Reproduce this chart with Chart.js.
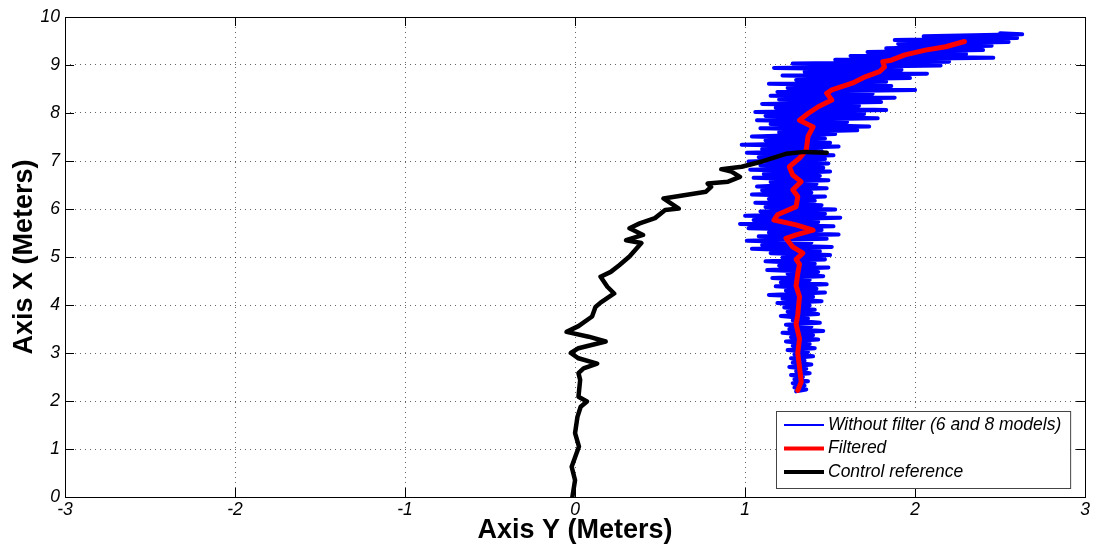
<!DOCTYPE html>
<html><head><meta charset="utf-8">
<script src="https://cdn.jsdelivr.net/npm/chart.js@4.4.0/dist/chart.umd.min.js"></script>
<style>html,body{margin:0;padding:0;background:#fff}canvas{display:block}</style>
</head><body>
<canvas id="c" width="1093" height="547"></canvas>
<script>
// ---- axis ticks ----
const xTickValues = [-3, -2, -1, 0, 1, 2, 3];
const yTickValues = [0, 1, 2, 3, 4, 5, 6, 7, 8, 9, 10];
const xAxisTitle = 'Axis Y (Meters)';
const yAxisTitle = 'Axis X (Meters)';
const seriesLabels = ['Without filter (6 and 8 models)', 'Filtered', 'Control reference'];
const seriesColors = ['#0000ff', '#ff0000', '#000000'];

// ---- series: Without filter (blue) ----
const blueX = [1.30,1.36,1.29,1.35,1.28,1.37,1.29,1.34,1.27,1.38,1.30,1.36,1.26,1.39,1.28,1.35,1.27,1.40,1.29,1.37,
  1.25,1.41,1.28,1.38,1.24,1.43,1.27,1.40,1.22,1.46,1.26,1.39,1.24,1.44,1.28,1.37,1.21,1.43,1.25,1.41,1.23,1.38,
  1.19,1.45,1.22,1.40,1.14,1.47,1.24,1.42,1.18,1.48,1.21,1.38,1.16,1.46,1.25,1.43,1.13,1.49,1.20,1.41,1.12,1.47,1.22,
  1.50,1.15,1.44,1.04,1.51,1.10,1.39,1.01,1.48,1.08,1.55,1.14,1.45,1.02,1.52,0.97,1.43,1.05,1.56,1.00,1.47,1.09,1.53,
  1.12,1.45,1.06,1.41,1.14,1.47,1.04,1.39,1.10,1.48,1.07,1.42,1.15,1.49,1.05,1.44,1.11,1.50,1.03,1.46,1.09,1.49,1.02,
  1.47,1.08,1.52,1.01,1.45,1.10,1.55,0.98,1.50,1.12,1.47,1.04,1.53,1.20,
  1.66,1.09,1.73,1.15,1.60,1.07,1.78,1.12,1.70,1.06,1.83,1.18,1.67,1.10,1.80,1.20,1.88,1.15,1.75,
  1.19,2.00,1.25,1.86,1.14,1.83,1.30,1.97,1.22,2.07,1.35,1.92,1.17,2.15,1.28,
  2.20,1.53,2.46,1.62,2.30,1.72,2.40,1.83,2.45,1.90,2.55,1.88,2.60,2.05,2.63,2.50];
const blueY = [2.20,2.24,2.28,2.32,2.37,2.41,2.45,2.50,2.54,2.58,2.62,2.67,2.71,2.76,2.80,2.84,2.89,2.93,2.97,3.02,
  3.06,3.10,3.15,3.19,3.24,3.28,3.33,3.37,3.42,3.46,3.50,3.55,3.59,3.63,3.68,3.72,3.77,3.81,3.86,3.90,3.95,3.99,
  4.04,4.08,4.13,4.17,4.21,4.26,4.30,4.34,4.39,4.43,4.47,4.52,4.56,4.60,4.65,4.69,4.73,4.78,4.82,4.86,4.91,4.95,4.99,
  5.04,5.08,5.12,5.17,5.21,5.25,5.30,5.34,5.38,5.43,5.47,5.51,5.56,5.60,5.64,5.69,5.73,5.77,5.82,5.86,5.90,5.95,5.99,
  6.04,6.08,6.13,6.17,6.21,6.26,6.30,6.34,6.39,6.43,6.47,6.52,6.56,6.60,6.65,6.69,6.73,6.78,6.82,6.86,6.91,6.95,6.99,
  7.04,7.08,7.12,7.17,7.21,7.25,7.30,7.34,7.38,7.43,7.47,7.51,7.56,7.60,
  7.64,7.68,7.72,7.77,7.81,7.85,7.89,7.94,7.98,8.02,8.06,8.11,8.15,8.19,8.23,8.28,8.32,8.36,8.40,
  8.44,8.48,8.52,8.56,8.61,8.65,8.69,8.73,8.78,8.82,8.86,8.90,8.94,8.99,9.03,
  9.07,9.11,9.15,9.19,9.23,9.27,9.31,9.35,9.40,9.44,9.48,9.52,9.56,9.60,9.64,9.66];

// ---- series: Filtered (red) ----
const redX = [1.31,1.33,1.32,1.31,1.32,1.30,1.31,1.32,1.30,1.31,1.32,1.30,1.34,1.28,1.24,1.30,1.40,1.30,1.17,1.19,1.30,
  1.31,1.28,1.33,1.28,1.26,1.32,1.36,1.37,1.40,1.32,1.37,1.43,1.51,1.48,1.51,1.63,1.71,1.79,1.82,1.81,1.86,1.94,2.06,2.18,2.29];
const redY = [2.22,2.40,2.70,3.00,3.30,3.60,3.80,4.17,4.40,4.66,4.85,4.95,5.08,5.21,5.39,5.46,5.56,5.67,5.77,5.88,6.05,
  6.26,6.40,6.57,6.71,6.88,7.06,7.23,7.51,7.71,7.85,7.99,8.13,8.27,8.41,8.48,8.62,8.76,8.86,8.96,9.07,9.10,9.21,9.31,9.38,9.49];

// ---- series: Control reference (black) ----
const blackX = [-0.016,0.00,-0.02,0.023,0.00,0.014,0.033,0.07,0.02,0.03,0.02,0.05,0.13,0.02,-0.025,0.02,0.18,0.08,-0.05,0.02,
  0.10,0.12,0.15,0.23,0.19,0.15,0.21,0.26,0.32,0.39,0.30,0.40,0.32,0.38,0.47,0.53,0.61,0.52,0.65,0.77,0.80,0.78,0.90,0.97,
  0.92,0.86,0.98,1.10,1.24,1.35,1.48];
const blackY = [0.00,0.35,0.63,1.05,1.33,1.67,1.88,1.99,2.09,2.44,2.58,2.68,2.78,2.89,3.00,3.10,3.24,3.34,3.44,3.56,
  3.76,3.96,4.05,4.24,4.38,4.59,4.69,4.83,5.01,5.29,5.35,5.46,5.60,5.70,5.81,5.98,6.01,6.22,6.29,6.36,6.46,6.53,6.57,6.67,
  6.78,6.83,6.88,6.99,7.15,7.19,7.17];

const FONT = '"Liberation Sans", Arial, Helvetica, sans-serif';
const toPts = (xs, ys) => xs.map((x, i) => ({x: x, y: ys[i]}));

const framePlugin = {
  id: 'frame',
  afterDatasetsDraw(chart) {
    const {ctx, chartArea: a, scales: {x, y}} = chart;
    ctx.save();
    ctx.strokeStyle = '#000';
    ctx.lineWidth = 1;
    ctx.setLineDash([]);
    ctx.beginPath();
    const L = 9;
    xTickValues.forEach(v => {
      const px = Math.round(x.getPixelForValue(v)) + 0.5;
      ctx.moveTo(px, a.bottom); ctx.lineTo(px, a.bottom - L);
      ctx.moveTo(px, a.top); ctx.lineTo(px, a.top + L);
    });
    yTickValues.forEach(v => {
      const py = Math.round(y.getPixelForValue(v)) + 0.5;
      ctx.moveTo(a.left, py); ctx.lineTo(a.left + L, py);
      ctx.moveTo(a.right, py); ctx.lineTo(a.right - L, py);
    });
    ctx.stroke();
    ctx.strokeRect(Math.round(a.left) + 0.5, Math.round(a.top) + 0.5, Math.round(a.right - a.left), Math.round(a.bottom - a.top));
    ctx.restore();
  },
  afterDraw(chart) {
    const {ctx, chartArea: a} = chart;
    ctx.save();
    ctx.font = 'italic 17.5px ' + FONT;
    const tw = Math.max(...seriesLabels.map(s => ctx.measureText(s).width));
    const sample = 40, padL = 8, gap = 4, padR = 9, rowH = 23.5, padT = 14;
    const w = padL + sample + gap + tw + padR;
    const h = padT * 2 + rowH * (seriesLabels.length - 1) + 2;
    const right = a.right - 15, bottom = a.bottom - 9;
    const left = Math.round(right - w), top = Math.round(bottom - h);
    ctx.fillStyle = '#fff';
    ctx.fillRect(left, top, right - left, bottom - top);
    ctx.strokeStyle = '#444';
    ctx.lineWidth = 1;
    ctx.strokeRect(left + 0.5, top + 0.5, right - left, bottom - top);
    chart.data.datasets.forEach((ds, i) => {
      const cy = top + padT + rowH * i;
      ctx.strokeStyle = ds.borderColor;
      ctx.lineWidth = i === 0 ? 2 : 4;
      ctx.beginPath();
      ctx.moveTo(left + padL, cy);
      ctx.lineTo(left + padL + sample, cy);
      ctx.stroke();
      ctx.fillStyle = '#000';
      ctx.textBaseline = 'middle';
      ctx.textAlign = 'left';
      ctx.fillText(ds.label, left + padL + sample + gap, cy);
    });
    ctx.restore();
  }
};

new Chart(document.getElementById('c'), {
  type: 'scatter',
  data: {
    datasets: [
      {label: seriesLabels[0], data: toPts(blueX, blueY), borderColor: seriesColors[0], borderWidth: 4, order: 3},
      {label: seriesLabels[1], data: toPts(redX, redY), borderColor: seriesColors[1], borderWidth: 5, order: 2},
      {label: seriesLabels[2], data: toPts(blackX, blackY), borderColor: seriesColors[2], borderWidth: 4.5, order: 1}
    ].map(d => Object.assign(d, {showLine: true, pointRadius: 0, pointHoverRadius: 0, tension: 0, fill: false, backgroundColor: d.borderColor, borderJoinStyle: 'round', borderCapStyle: 'round'}))
  },
  options: {
    responsive: false,
    animation: false,
    events: [],
    layout: {padding: {top: 17, right: 5, left: 0, bottom: 0}},
    plugins: {legend: {display: false}, tooltip: {enabled: false}},
    scales: {
      x: {
        type: 'linear', min: -3, max: 3,
        afterBuildTicks(s) { s.ticks = xTickValues.map(v => ({value: v})); },
        afterFit(s) { s.height = 50; },
        ticks: {color: '#000', font: {family: FONT, size: 17.5, style: 'italic'}, padding: 3, maxRotation: 0, autoSkip: false},
        grid: {color: 'rgba(0,0,0,0.6)', lineWidth: 1, drawTicks: false},
        border: {display: false, dash: [1, 4]},
        title: {display: true, text: xAxisTitle, color: '#000', font: {family: FONT, size: 27, weight: 'bold'}, padding: {top: 0, bottom: 0}}
      },
      y: {
        type: 'linear', min: 0, max: 10,
        afterBuildTicks(s) { s.ticks = yTickValues.map(v => ({value: v})); },
        afterFit(s) { s.width = 65; },
        ticks: {color: '#000', font: {family: FONT, size: 17.5, style: 'italic'}, padding: 5, autoSkip: false},
        grid: {color: 'rgba(0,0,0,0.6)', lineWidth: 1, drawTicks: false},
        border: {display: false, dash: [1, 4]},
        title: {display: true, text: yAxisTitle, color: '#000', font: {family: FONT, size: 27, weight: 'bold'}, padding: {top: 8, bottom: 0}}
      }
    }
  },
  plugins: [framePlugin]
});
</script>
</body></html>
